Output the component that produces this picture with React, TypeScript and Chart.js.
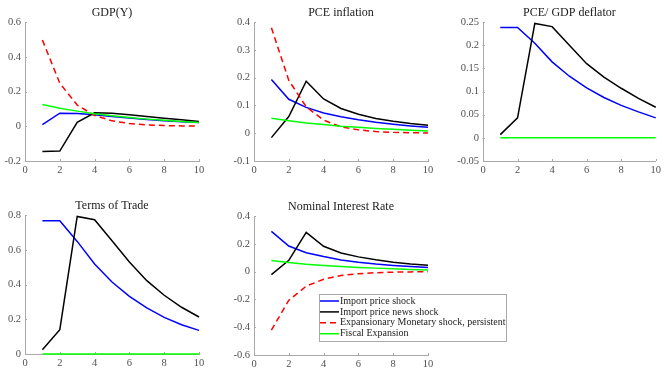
import React, { useEffect, useRef } from 'react';
import { Chart, registerables } from 'chart.js';

Chart.register(...registerables);

// ---------- data ----------
const periods = [1, 2, 3, 4, 5, 6, 7, 8, 9, 10];
const seriesNames = [
  'Import price shock',
  'Import price news shock',
  'Expansionary Monetary shock, persistent',
  'Fiscal Expansion',
];

const gdpImport = [0.01, 0.075, 0.074, 0.066, 0.056, 0.047, 0.039, 0.032, 0.026, 0.021];
const gdpNews = [-0.145, -0.143, 0.022, 0.077, 0.075, 0.066, 0.056, 0.046, 0.037, 0.028];
const gdpMonetary = [0.496, 0.248, 0.122, 0.062, 0.031, 0.016, 0.008, 0.004, 0.002, 0.001];
const gdpFiscal = [0.125, 0.104, 0.087, 0.072, 0.06, 0.05, 0.041, 0.034, 0.028, 0.022];

const pceImport = [0.193, 0.122, 0.093, 0.073, 0.059, 0.048, 0.039, 0.032, 0.026, 0.021];
const pceNews = [-0.016, 0.06, 0.187, 0.123, 0.089, 0.068, 0.053, 0.043, 0.035, 0.029];
const pceMonetary = [0.379, 0.19, 0.095, 0.047, 0.023, 0.012, 0.006, 0.003, 0.0015, 0.001];
const pceFiscal = [0.054, 0.045, 0.037, 0.031, 0.025, 0.021, 0.017, 0.014, 0.011, 0.008];

const deflImport = [0.238, 0.238, 0.204, 0.164, 0.133, 0.108, 0.087, 0.07, 0.056, 0.043];
const deflNews = [0.007, 0.043, 0.247, 0.24, 0.2, 0.16, 0.131, 0.107, 0.085, 0.066];
const deflMonetary: number[] = []; // not shown in this panel
const deflFiscal = [0, 0, 0, 0, 0, 0, 0, 0, 0, 0];

const totImport = [0.767, 0.767, 0.648, 0.518, 0.414, 0.332, 0.265, 0.211, 0.168, 0.136];
const totNews = [0.025, 0.14, 0.792, 0.773, 0.652, 0.53, 0.422, 0.338, 0.269, 0.213];
const totMonetary: number[] = []; // not shown in this panel
const totFiscal = [0, 0, 0, 0, 0, 0, 0, 0, 0, 0];

const rateImport = [0.289, 0.184, 0.136, 0.108, 0.084, 0.067, 0.054, 0.044, 0.036, 0.029];
const rateNews = [-0.022, 0.081, 0.282, 0.182, 0.134, 0.106, 0.085, 0.068, 0.055, 0.045];
const rateMonetary = [-0.421, -0.206, -0.105, -0.055, -0.028, -0.015, -0.008, -0.004, -0.002, -0.001];
const rateFiscal = [0.079, 0.065, 0.053, 0.044, 0.036, 0.03, 0.025, 0.02, 0.016, 0.012];

const titles = ['GDP(Y)', 'PCE inflation', 'PCE/ GDP deflator', 'Terms of Trade', 'Nominal Interest Rate'];
const yMins = [-0.2, -0.1, -0.05, 0, -0.6];
const yMaxs = [0.6, 0.4, 0.25, 0.8, 0.4];
const ySteps = [0.2, 0.1, 0.05, 0.2, 0.2];
const xMin = 0;
const xMax = 10;
const xStep = 2;

const panelSeries = [
  [gdpImport, gdpNews, gdpMonetary, gdpFiscal],
  [pceImport, pceNews, pceMonetary, pceFiscal],
  [deflImport, deflNews, deflMonetary, deflFiscal],
  [totImport, totNews, totMonetary, totFiscal],
  [rateImport, rateNews, rateMonetary, rateFiscal],
];

// ---------- styles / layout ----------
const FONT = '"Liberation Serif", "Times New Roman", serif';
const COLORS = ['#0000ff', '#000000', '#ff0000', '#00ff00'];
const DASHES = [[], [], [6, 4], []];
const AXIS_COLOR = '#a8a8a8';
const TICK_COLOR = '#505050';
const TITLE_H = 15.9; // 12 * 1.2 + 1.5

type Box = { left: number; top: number; width: number; height: number; l: number; t: number; r: number; b: number; legend?: boolean };

const layouts: Box[] = [
  { left: 0, top: 0, width: 215, height: 178, l: 25, t: 22, r: 199, b: 161 },
  { left: 215, top: 0, width: 225, height: 178, l: 254, t: 22, r: 428, b: 161 },
  { left: 440, top: 0, width: 224, height: 178, l: 483, t: 22, r: 658, b: 161 },
  { left: 0, top: 178, width: 215, height: 190, l: 25, t: 215, r: 199, b: 354 },
  { left: 215, top: 178, width: 300, height: 190, l: 254, t: 216, r: 428, b: 355, legend: true },
];

const fmt = (v: number) => String(Math.round(v * 1000) / 1000);

const innerTicks = {
  id: 'innerTicks',
  beforeDatasetsDraw(chart: any) {
    const { ctx, chartArea } = chart;
    const xs = chart.scales.x;
    const ys = chart.scales.y;
    ctx.save();
    ctx.strokeStyle = AXIS_COLOR;
    ctx.lineWidth = 1;
    xs.ticks.forEach((t: any) => {
      const px = Math.round(xs.getPixelForValue(t.value)) + 0.5;
      ctx.beginPath();
      ctx.moveTo(px, chartArea.bottom);
      ctx.lineTo(px, chartArea.bottom - 2);
      ctx.stroke();
    });
    ys.ticks.forEach((t: any) => {
      const py = Math.round(ys.getPixelForValue(t.value)) + 0.5;
      ctx.beginPath();
      ctx.moveTo(chartArea.left, py);
      ctx.lineTo(chartArea.left + 2, py);
      ctx.stroke();
    });
    ctx.restore();
  },
};

const boxLegend = {
  id: 'boxLegend',
  afterDraw(chart: any, _args: any, opts: any) {
    if (!opts || !opts.show) return;
    const { ctx, chartArea } = chart;
    const x = chartArea.left + opts.dx;
    const y = chartArea.top + opts.dy;
    const w = opts.w;
    const h = opts.h;
    ctx.save();
    ctx.fillStyle = '#ffffff';
    ctx.fillRect(x, y, w, h);
    ctx.strokeStyle = AXIS_COLOR;
    ctx.lineWidth = 1;
    ctx.strokeRect(x + 0.5, y + 0.5, w, h);
    chart.data.datasets.forEach((ds: any, i: number) => {
      const cy = y + 7 + i * opts.rowH;
      ctx.strokeStyle = ds.borderColor;
      ctx.lineWidth = ds.borderWidth;
      ctx.setLineDash(ds.borderDash || []);
      ctx.beginPath();
      ctx.moveTo(x + 1, cy);
      ctx.lineTo(x + 20, cy);
      ctx.stroke();
      ctx.setLineDash([]);
      ctx.fillStyle = '#222';
      ctx.font = '10px ' + FONT;
      ctx.textBaseline = 'middle';
      ctx.textAlign = 'left';
      ctx.fillText(ds.label, x + 21, cy);
    });
    ctx.restore();
  },
};

function Panel({ idx }: { idx: number }) {
  const ref = useRef<HTMLCanvasElement | null>(null);
  const L = layouts[idx];
  useEffect(() => {
    if (!ref.current) return;
    const yAxisW = L.l - L.left;
    const xAxisH = L.top + L.height - L.b;
    const padTop = L.t - L.top - TITLE_H;
    const padRight = L.left + L.width - L.r;
    const chart = new Chart(ref.current, {
      type: 'line',
      data: {
        datasets: panelSeries[idx].map((vals, i) => ({
          label: seriesNames[i],
          data: vals.map((v, k) => ({ x: periods[k], y: v })),
          borderColor: COLORS[i],
          backgroundColor: COLORS[i],
          borderWidth: 1.5,
          borderDash: DASHES[i],
          pointRadius: 0,
          tension: 0,
          fill: false,
          clip: 4,
          order: 3 - i,
        })),
      },
      options: {
        animation: false,
        responsive: false,
        maintainAspectRatio: false,
        devicePixelRatio: 1,
        layout: { padding: { top: padTop, right: padRight, bottom: 0, left: 0 } },
        font: { family: FONT },
        plugins: {
          legend: { display: false },
          tooltip: { enabled: false },
          title: {
            display: true,
            text: titles[idx],
            fullSize: false,
            color: '#1a1a1a',
            font: { family: FONT, size: 12, weight: 'normal', lineHeight: 1.2 },
            padding: { top: 0, bottom: 1.5 },
          },
          boxLegend: L.legend
            ? { show: true, dx: 65, dy: 78, w: 187, h: 47, rowH: 10.9 }
            : { show: false },
        } as any,
        scales: {
          x: {
            type: 'linear',
            min: xMin,
            max: xMax,
            grid: { display: false, drawTicks: false },
            border: { display: true, color: AXIS_COLOR, width: 1 },
            ticks: {
              stepSize: xStep,
              color: TICK_COLOR,
              font: { family: FONT, size: 10.5 },
              padding: 3,
              maxRotation: 0,
              callback: (v: any) => fmt(Number(v)),
            },
            afterFit: (s: any) => {
              s.height = xAxisH;
            },
          },
          y: {
            type: 'linear',
            min: yMins[idx],
            max: yMaxs[idx],
            grid: { display: false, drawTicks: false },
            border: { display: true, color: AXIS_COLOR, width: 1 },
            ticks: {
              stepSize: ySteps[idx],
              color: TICK_COLOR,
              font: { family: FONT, size: 10.5 },
              padding: 4,
              callback: (v: any) => fmt(Number(v)),
            },
            afterFit: (s: any) => {
              s.width = yAxisW;
            },
          },
        },
      } as any,
      plugins: [innerTicks, boxLegend],
    });
    return () => chart.destroy();
  }, [idx]);
  return (
    <canvas
      ref={ref}
      width={L.width}
      height={L.height}
      style={{ position: 'absolute', left: L.left, top: L.top, width: L.width, height: L.height }}
    />
  );
}

export default function App() {
  return (
    <div style={{ position: 'absolute', left: 0, top: 0, width: 664, height: 368, background: '#fff', overflow: 'hidden' }}>
      {layouts.map((_, i) => (
        <Panel key={i} idx={i} />
      ))}
    </div>
  );
}
